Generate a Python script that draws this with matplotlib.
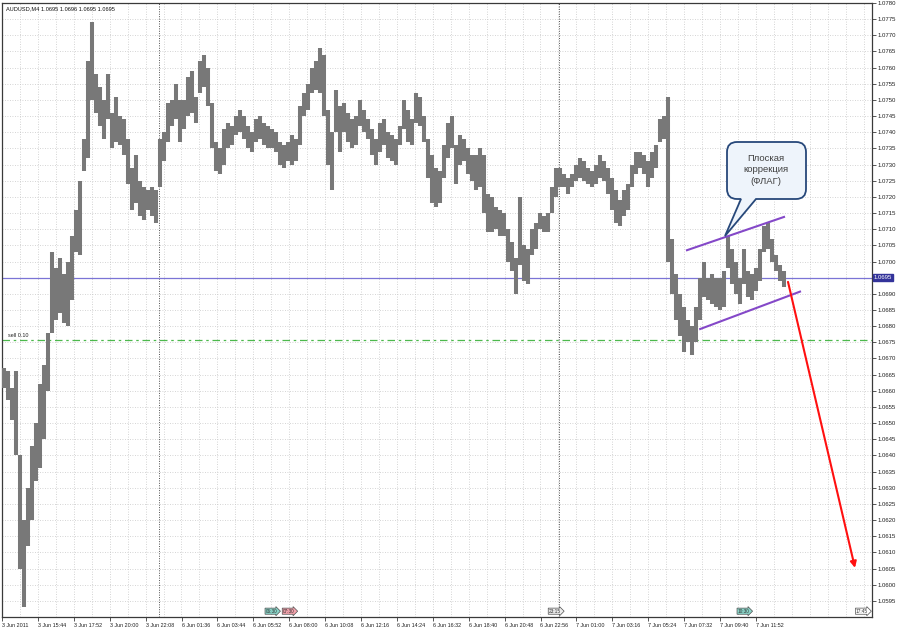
import matplotlib
matplotlib.use('Agg')
import matplotlib.pyplot as plt
from matplotlib.path import Path
from matplotlib.patches import PathPatch
from matplotlib.transforms import Affine2D
import numpy as np

plt.rcParams['font.family'] = ['Liberation Sans', 'DejaVu Sans']

# ---------------- data ----------------
symbol_title = 'AUDUSD,M4 1.0695 1.0696 1.0695 1.0695'

bar_high = [
    1.0667, 1.0666, 1.0661, 1.0666, 1.0640, 1.0620, 1.0630, 1.0643, 1.0650, 1.0662,
    1.0668, 1.0678, 1.0703, 1.0698, 1.0701, 1.0696, 1.0700, 1.0708, 1.0716, 1.0725,
    1.0738, 1.0762, 1.0774, 1.0758, 1.0754, 1.0750, 1.0758, 1.0746, 1.0751, 1.0745,
    1.0744, 1.0738, 1.0729, 1.0733, 1.0725, 1.0723, 1.0722, 1.0723, 1.0722, 1.0738,
    1.0740, 1.0749, 1.0750, 1.0755, 1.0750, 1.0750, 1.0757, 1.0759, 1.0751, 1.0762,
    1.0764, 1.0760, 1.0749, 1.0737, 1.0735, 1.0741, 1.0743, 1.0742, 1.0745, 1.0747,
    1.0745, 1.0742, 1.0740, 1.0744, 1.0745, 1.0743, 1.0742, 1.0741, 1.0740, 1.0737,
    1.0736, 1.0737, 1.0739, 1.0738, 1.0748, 1.0752, 1.0755, 1.0760, 1.0762, 1.0766,
    1.0764, 1.0747, 1.0740, 1.0753, 1.0748, 1.0749, 1.0746, 1.0744, 1.0745, 1.0750,
    1.0747, 1.0744, 1.0741, 1.0738, 1.0743, 1.0744, 1.0740, 1.0739, 1.0738, 1.0742,
    1.0750, 1.0747, 1.0744, 1.0752, 1.0751, 1.0745, 1.0738, 1.0733, 1.0729, 1.0728,
    1.0736, 1.0743, 1.0745, 1.0736, 1.0739, 1.0738, 1.0735, 1.0733, 1.0733, 1.0735,
    1.0733, 1.0721, 1.0720, 1.0717, 1.0716, 1.0715, 1.0710, 1.0706, 1.0701, 1.0720,
    1.0705, 1.0704, 1.0710, 1.0712, 1.0715, 1.0714, 1.0715, 1.0723, 1.0729, 1.0729,
    1.0727, 1.0726, 1.0727, 1.0730, 1.0732, 1.0731, 1.0729, 1.0728, 1.0730, 1.0733,
    1.0731, 1.0729, 1.0726, 1.0722, 1.0719, 1.0722, 1.0724, 1.0730, 1.0734, 1.0734,
    1.0733, 1.0731, 1.0734, 1.0736, 1.0744, 1.0745, 1.0751, 1.0707, 1.0696, 1.0690,
    1.0686, 1.0682, 1.0680, 1.0686, 1.0695, 1.0700, 1.0695, 1.0696, 1.0695, 1.0695,
    1.0697, 1.0708, 1.0704, 1.0700, 1.0695, 1.0704, 1.0697, 1.0696, 1.0698, 1.0704,
    1.0711, 1.0712, 1.0707, 1.0702, 1.0699, 1.0697,
]
bar_low = [
    1.0661, 1.0657, 1.0651, 1.0640, 1.0605, 1.0593, 1.0612, 1.0620, 1.0632, 1.0636,
    1.0645, 1.0660, 1.0678, 1.0682, 1.0684, 1.0681, 1.0680, 1.0688, 1.0703, 1.0702,
    1.0728, 1.0732, 1.0750, 1.0746, 1.0742, 1.0738, 1.0744, 1.0735, 1.0737, 1.0736,
    1.0733, 1.0724, 1.0716, 1.0718, 1.0714, 1.0713, 1.0716, 1.0714, 1.0712, 1.0723,
    1.0731, 1.0737, 1.0742, 1.0744, 1.0737, 1.0741, 1.0745, 1.0746, 1.0743, 1.0752,
    1.0754, 1.0748, 1.0735, 1.0728, 1.0727, 1.0730, 1.0735, 1.0736, 1.0739, 1.0740,
    1.0738, 1.0735, 1.0734, 1.0737, 1.0738, 1.0736, 1.0735, 1.0735, 1.0734, 1.0730,
    1.0729, 1.0731, 1.0730, 1.0731, 1.0736, 1.0745, 1.0747, 1.0752, 1.0753, 1.0752,
    1.0745, 1.0730, 1.0722, 1.0740, 1.0734, 1.0740, 1.0737, 1.0735, 1.0736, 1.0742,
    1.0740, 1.0738, 1.0733, 1.0730, 1.0734, 1.0736, 1.0732, 1.0731, 1.0730, 1.0736,
    1.0741, 1.0737, 1.0736, 1.0743, 1.0742, 1.0737, 1.0726, 1.0718, 1.0717, 1.0718,
    1.0726, 1.0732, 1.0735, 1.0724, 1.0730, 1.0731, 1.0727, 1.0725, 1.0722, 1.0723,
    1.0715, 1.0709, 1.0709, 1.0710, 1.0708, 1.0708, 1.0700, 1.0697, 1.0690, 1.0699,
    1.0694, 1.0693, 1.0702, 1.0704, 1.0710, 1.0709, 1.0709, 1.0715, 1.0720, 1.0723,
    1.0723, 1.0721, 1.0723, 1.0725, 1.0726, 1.0725, 1.0724, 1.0723, 1.0724, 1.0726,
    1.0725, 1.0721, 1.0716, 1.0712, 1.0711, 1.0714, 1.0716, 1.0723, 1.0727, 1.0729,
    1.0727, 1.0723, 1.0726, 1.0729, 1.0737, 1.0738, 1.0700, 1.0690, 1.0682, 1.0677,
    1.0672, 1.0675, 1.0671, 1.0675, 1.0682, 1.0689, 1.0688, 1.0687, 1.0686, 1.0685,
    1.0686, 1.0698, 1.0693, 1.0690, 1.0687, 1.0693, 1.0689, 1.0688, 1.0691, 1.0694,
    1.0703, 1.0704, 1.0700, 1.0697, 1.0694, 1.0692,
]

bid_price = 1.0695
sell_price = 1.06757
sell_label = 'sell 0.10'

time_labels = ['3 Jun 2011', '3 Jun 15:44', '3 Jun 17:52', '3 Jun 20:00', '3 Jun 22:08',
               '6 Jun 01:36', '6 Jun 03:44', '6 Jun 05:52', '6 Jun 08:00', '6 Jun 10:08',
               '6 Jun 12:16', '6 Jun 14:24', '6 Jun 16:32', '6 Jun 18:40', '6 Jun 20:48',
               '6 Jun 22:56', '7 Jun 01:00', '7 Jun 03:16', '7 Jun 05:24', '7 Jun 07:32',
               '7 Jun 09:40', '7 Jun 11:52']

day_separators = [38.75, 138.75]

flag_upper_x = [170.5, 195.25]
flag_upper_y = [1.07034, 1.07139]
flag_lower_x = [173.8, 199.25]
flag_lower_y = [1.06790, 1.06908]
arrow_from = (196.0, 1.06937)
arrow_to = (212.75, 1.06052)

event_names = ['06:30', '07:30', '23:15', '10:30', '17:45']
event_pos = [65.0, 69.3, 135.8, 183.0, 212.6]
event_colors = ['#8ad4c8', '#f4a3ad', '#ececec', '#8ad4c8', '#ffffff']

callout_text = 'Плоская\nкоррекция\n(ФЛАГ)'

# ---------------- figure ----------------
W, H = 900, 630
fig = plt.figure(figsize=(9, 6.3), dpi=100, facecolor='white')
ax = fig.add_axes([2 / W, (H - 617) / H, 870 / W, 614 / H])
ax.set_facecolor('white')

x_min, x_max = -0.5, 217.0
y_min, y_max = 1.0590, 1.0780
ax.set_xlim(x_min, x_max)
ax.set_ylim(y_min, y_max)

# grid
price_ticks = np.round(np.arange(1.0595, 1.07801, 0.0005), 4)
for p in price_ticks:
    ax.axhline(p, color='#c6c6c6', lw=0.6, ls=(0, (1, 2)), zorder=0)
grid_step = 4.4875
gx = x_min + grid_step
while gx < x_max:
    ax.axvline(gx, color='#c6c6c6', lw=0.6, ls=(0, (1, 2)), zorder=0)
    gx += grid_step

for s in day_separators:
    ax.axvline(s, color='#505050', lw=0.7, ls=(0, (1, 1.5)), zorder=1)

# bars
idx = np.arange(len(bar_high))
ax.vlines(idx, bar_low, bar_high, colors='#787878', linewidth=2.9, zorder=3)

# bid & sell lines
ax.axhline(bid_price, color='#7b74d6', lw=0.9, zorder=2)
ax.axhline(sell_price, color='#4cb84c', lw=0.9, ls=(0, (6, 3, 2, 3)), zorder=2)
ax.text(0.9, sell_price + 0.00007, sell_label, fontsize=3.9, color='#202020',
        ha='left', va='bottom', zorder=5)

# flag lines
ax.plot(flag_upper_x, flag_upper_y, color='#8448c8', lw=1.5, zorder=4,
        solid_capstyle='butt')
ax.plot(flag_lower_x, flag_lower_y, color='#8448c8', lw=1.5, zorder=4,
        solid_capstyle='butt')

# red arrow
ax.annotate('', xy=arrow_to, xytext=arrow_from,
            arrowprops=dict(arrowstyle='-|>', color='#ff1010', lw=1.5,
                            mutation_scale=9, shrinkA=0, shrinkB=0), zorder=6)

# title
ax.text(0.4, 1.0780 - 0.00011, symbol_title, fontsize=4.1, color='#101010',
        ha='left', va='top', zorder=6)

# axes styling
for sp in ax.spines.values():
    sp.set_color('#3a3a3a')
    sp.set_linewidth(0.9)

ax.yaxis.tick_right()
ax.set_yticks(price_ticks)
ax.set_yticklabels(['' if abs(p - bid_price) < 1e-6 else '%.4f' % p
                    for p in price_ticks])
ax.tick_params(axis='y', direction='out', length=3, width=0.6, color='#3a3a3a',
               labelsize=4.3, labelcolor='#202020', pad=1)

tick_step = 8.975
tick_pos = [x_min + tick_step * k for k in range(len(time_labels))]
ax.set_xticks(tick_pos)
ax.set_xticklabels(time_labels)
ax.tick_params(axis='x', direction='out', length=3, width=0.6, color='#3a3a3a',
               labelsize=3.9, labelcolor='#202020', pad=1.5)
for lbl in ax.get_xticklabels():
    lbl.set_ha('left')

# current price label on the right axis
ax.text(1.002, (bid_price - y_min) / (y_max - y_min), '%.4f' % bid_price,
        transform=ax.transAxes, fontsize=4.3, color='white', ha='left',
        va='center', zorder=10, clip_on=False,
        bbox=dict(boxstyle='square,pad=0.15', fc='#33339a', ec='#33339a'))

# time event markers near the bottom
for name, pos, col in zip(event_names, event_pos, event_colors):
    ax.text(pos + 0.4, 1.05918, name, fontsize=3.4, color='#303030', ha='left',
            va='center', zorder=8,
            bbox=dict(boxstyle='rarrow,pad=0.12', fc=col, ec='#505050', lw=0.5))

# callout (pixel coordinates, origin top-left)
pix = Affine2D().scale(1 / W, -1 / H).translate(0, 1) + fig.transFigure
x0, x1, y0, y1, r = 727, 806, 142, 199, 10
verts = [
    (x0 + r, y0), (x1 - r, y0), (x1, y0), (x1, y0 + r), (x1, y1 - r), (x1, y1),
    (x1 - r, y1), (756, y1), (725, 236), (741, y1), (x0 + r, y1), (x0, y1),
    (x0, y1 - r), (x0, y0 + r), (x0, y0), (x0 + r, y0), (x0 + r, y0)]
codes = [Path.MOVETO, Path.LINETO, Path.CURVE3, Path.CURVE3, Path.LINETO,
         Path.CURVE3, Path.CURVE3, Path.LINETO, Path.LINETO, Path.LINETO,
         Path.LINETO, Path.CURVE3, Path.CURVE3, Path.LINETO, Path.CURVE3,
         Path.CURVE3, Path.CLOSEPOLY]
callout = PathPatch(Path(verts, codes), transform=pix, fc='#eef4fb', ec='#27487a',
                    lw=1.3, zorder=9)
fig.patches.append(callout)
fig.text(766 / W, 1 - 170 / H, callout_text, fontsize=6.8, color='#404040',
         ha='center', va='center', linespacing=1.4, zorder=10)

fig.savefig('out.png', dpi=100, facecolor='white')
